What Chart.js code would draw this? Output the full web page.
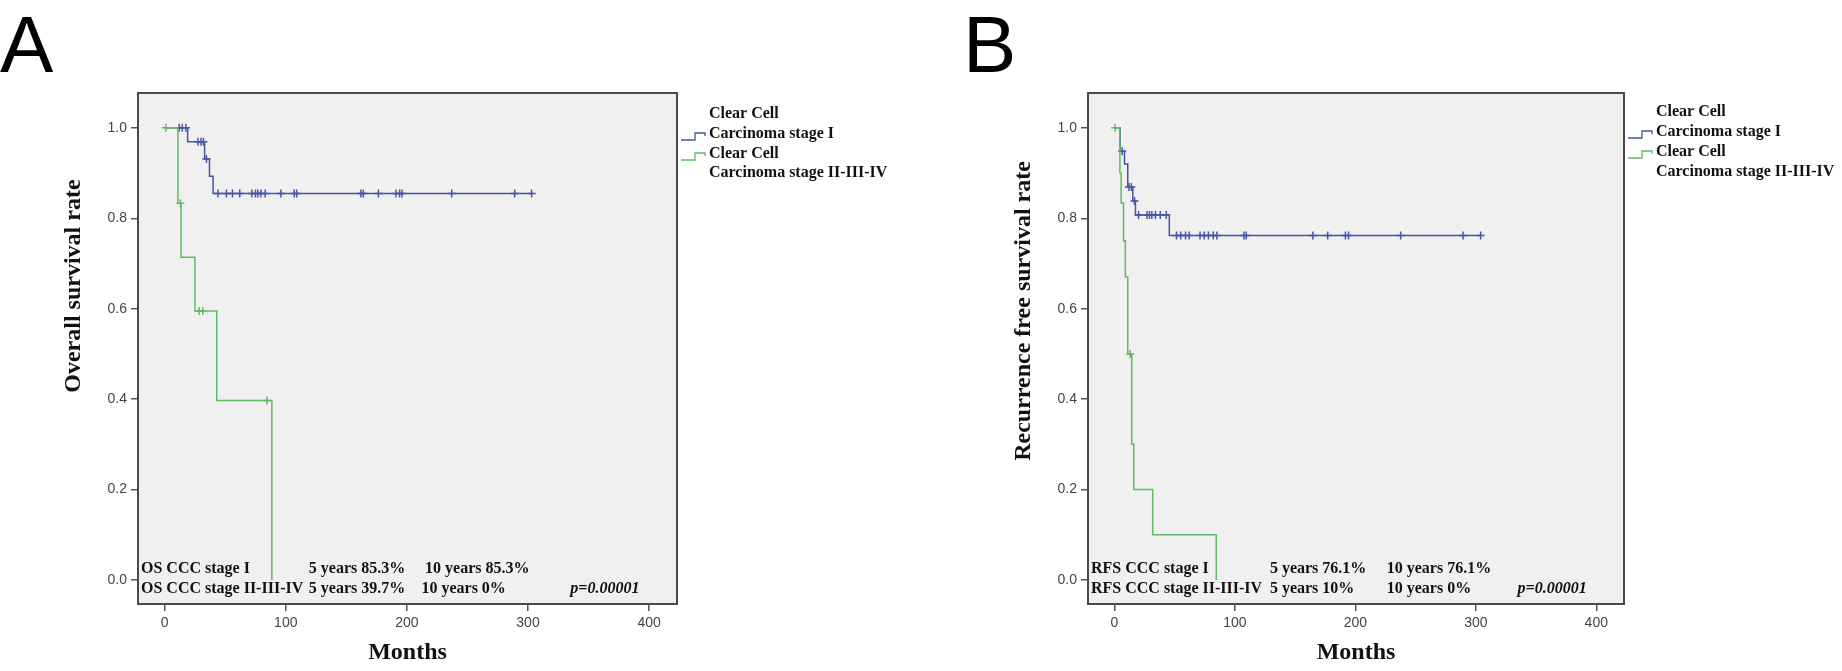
<!DOCTYPE html>
<html lang="en">
<head>
<meta charset="UTF-8">
<title>Clear Cell Carcinoma survival</title>
<script src="https://cdn.jsdelivr.net/npm/chart.js"></script>
<style>
    body {
        margin: 0;
        width: 1842px;
        height: 671px;
        background: #fff;
        position: relative;
        overflow: hidden;
    }
    canvas {
        position: absolute;
        top: 0;
    }
    #chartA { left: 0; }
    #chartB { left: 921px; }
</style>
</head>
<body>
<canvas id="chartA" width="921" height="671"></canvas>
<canvas id="chartB" width="921" height="671"></canvas>

<script>
// axis ticks
const monthTicks = [0, 100, 200, 300, 400];
const rateTicks = [0, 0.2, 0.4, 0.6, 0.8, 1.0];

// A - overall survival, stage I
const osIMonths = [0, 19, 33, 37, 40, 303];
const osIRate = [1.0, 0.969, 0.931, 0.893, 0.855, 0.855];
const osICensMonths = [12, 14.5, 17.5, 27.5, 30, 32, 34.5, 44, 51, 56, 62, 72, 75, 77, 79.5, 83, 96, 107, 109, 162, 164, 176.5, 191, 194, 196, 237, 289, 303];
const osICensRate = [1.0, 1.0, 1.0, 0.969, 0.969, 0.969, 0.931, 0.855, 0.855, 0.855, 0.855, 0.855, 0.855, 0.855, 0.855, 0.855, 0.855, 0.855, 0.855, 0.855, 0.855, 0.855, 0.855, 0.855, 0.855, 0.855, 0.855, 0.855];

// A - overall survival, stage II-III-IV
const osIIMonths = [0, 11, 13.5, 25, 43, 88.5];
const osIIRate = [1.0, 0.833, 0.714, 0.595, 0.397, 0];
const osIICensMonths = [1, 13, 28.5, 31.5, 84.5];
const osIICensRate = [1.0, 0.833, 0.595, 0.595, 0.397];

// B - recurrence free survival, stage I
const rfsIMonths = [0, 4.7, 8.3, 11, 15.2, 17.4, 45.5, 304];
const rfsIRate = [1.0, 0.948, 0.920, 0.869, 0.838, 0.807, 0.762, 0.762];
const rfsICensMonths = [6.4, 12, 14, 16.6, 20, 27, 29, 31, 34, 38, 43, 51.5, 55, 59, 62, 71, 74.5, 78, 82, 85, 107.5, 109.3, 164.7, 177, 191.7, 194.3, 237.6, 289.4, 304];
const rfsICensRate = [0.948, 0.869, 0.869, 0.838, 0.807, 0.807, 0.807, 0.807, 0.807, 0.807, 0.807, 0.762, 0.762, 0.762, 0.762, 0.762, 0.762, 0.762, 0.762, 0.762, 0.762, 0.762, 0.762, 0.762, 0.762, 0.762, 0.762, 0.762, 0.762];

// B - recurrence free survival, stage II-III-IV
const rfsIIMonths = [0, 4.5, 5.5, 7.5, 9, 11, 14.3, 16, 31.7, 84.5];
const rfsIIRate = [1.0, 0.9, 0.834, 0.75, 0.67, 0.5, 0.3, 0.2, 0.1, 0];
const rfsIICensMonths = [0.5, 13];
const rfsIICensRate = [1.0, 0.5];

// texts
const legendLines = ['Clear Cell', 'Carcinoma stage I', 'Clear Cell', 'Carcinoma stage II-III-IV'];
const osRows = [
    ['OS CCC stage I', '5 years 85.3%', '10 years 85.3%'],
    ['OS CCC stage II-III-IV', '5 years 39.7%', '10 years 0%']
];
const rfsRows = [
    ['RFS CCC stage I', '5 years 76.1%', '10 years 76.1%'],
    ['RFS CCC stage II-III-IV', '5 years 10%', '10 years 0%']
];
const pValue = 'p=0.00001';

const blue = '#4656a6';
const green = '#62ba62';
const serif = '"Liberation Serif", "Times New Roman", serif';
const sans = '"Liberation Sans", Arial, sans-serif';

function xy(xs, ys) {
    return xs.map((x, i) => ({ x: x, y: ys[i] }));
}

const panelPlugin = {
    id: 'panel',
    beforeDraw(chart) {
        const { ctx, chartArea: a } = chart;
        ctx.save();
        ctx.fillStyle = '#f0f0f0';
        ctx.fillRect(a.left, a.top, a.right - a.left, a.bottom - a.top);
        ctx.restore();
    },
    afterDraw(chart, args, o) {
        const { ctx, chartArea: a, scales } = chart;
        const x = scales.x, y = scales.y;
        ctx.save();

        // plot frame
        ctx.strokeStyle = '#4a4a4a';
        ctx.lineWidth = 2;
        ctx.strokeRect(a.left, a.top, a.right - a.left, a.bottom - a.top);

        // panel letter
        ctx.fillStyle = '#000';
        ctx.font = '80px ' + sans;
        ctx.textBaseline = 'alphabetic';
        ctx.textAlign = 'left';
        ctx.fillText(o.letter, o.letterX, 72);

        // y axis title
        ctx.save();
        ctx.font = 'bold 24px ' + serif;
        ctx.fillStyle = '#111';
        ctx.translate(a.left - 64, y.getPixelForValue(o.yTitleAt));
        ctx.rotate(-Math.PI / 2);
        ctx.textAlign = 'center';
        ctx.textBaseline = 'middle';
        ctx.fillText(o.yTitle, 0, 0);
        ctx.restore();

        // table of rates in the plot
        const y0 = y.getPixelForValue(0);
        const rowY = [y0 - 11, y0 + 9];
        ctx.font = 'bold 16px ' + serif;
        ctx.fillStyle = '#111';
        ctx.textBaseline = 'middle';
        o.rows.forEach((row, r) => {
            ctx.fillText(row[0], a.left + 3, rowY[r]);
            ctx.fillText(row[1], x.getPixelForValue(o.col5), rowY[r]);
            ctx.fillText(row[2], x.getPixelForValue(o.col10[r]), rowY[r]);
        });
        ctx.font = 'italic bold 16px ' + serif;
        ctx.textAlign = 'right';
        ctx.fillText(pValue, x.getPixelForValue(o.pEnd), rowY[1]);

        // legend
        ctx.textAlign = 'left';
        ctx.font = 'bold 16px ' + serif;
        legendLines.forEach((t, i) => ctx.fillText(t, a.right + 32, o.legendY[i]));
        const ix = a.right + 4;
        [[blue, o.legendY[1]], [green, o.legendY[2]]].forEach(([c, row]) => {
            ctx.strokeStyle = c;
            ctx.lineWidth = 1.3;
            ctx.beginPath();
            ctx.moveTo(ix, row + 6);
            ctx.lineTo(ix + 14, row + 6);
            ctx.lineTo(ix + 14, row - 1);
            ctx.lineTo(ix + 24, row - 1);
            ctx.lineTo(ix + 24, row + 2);
            ctx.stroke();
        });
        ctx.restore();
    }
};

function kmChart(id, pad, d, panel) {
    return new Chart(document.getElementById(id), {
        type: 'line',
        data: {
            datasets: [
                { data: xy(d.m2, d.r2), borderColor: green, borderWidth: 1.5, stepped: 'before', pointRadius: 0, fill: false },
                { type: 'scatter', data: xy(d.c2, d.cr2), borderColor: green, pointStyle: 'cross', pointRadius: 4, pointBorderWidth: 1.5, showLine: false },
                { data: xy(d.m1, d.r1), borderColor: blue, borderWidth: 1.5, stepped: 'before', pointRadius: 0, fill: false },
                { type: 'scatter', data: xy(d.c1, d.cr1), borderColor: blue, pointStyle: 'cross', pointRadius: 4, pointBorderWidth: 1.5, showLine: false }
            ]
        },
        options: {
            responsive: false,
            animation: false,
            layout: { padding: pad },
            plugins: {
                legend: { display: false },
                tooltip: { enabled: false },
                panel: panel
            },
            scales: {
                x: {
                    type: 'linear',
                    min: -22,
                    max: 423,
                    afterBuildTicks: s => { s.ticks = monthTicks.map(v => ({ value: v })); },
                    afterFit: s => { s.height = 67; },
                    grid: { drawOnChartArea: false, drawTicks: true, tickLength: 7, color: '#555', lineWidth: 1.5 },
                    border: { display: false },
                    ticks: { font: { family: sans, size: 14 }, color: '#444', padding: 4 },
                    title: {
                        display: true, text: 'Months', color: '#111',
                        font: { family: serif, size: 24, weight: 'bold' },
                        padding: { top: 0, bottom: 4 }
                    }
                },
                y: {
                    type: 'linear',
                    min: -0.053,
                    max: 1.077,
                    afterBuildTicks: s => { s.ticks = rateTicks.map(v => ({ value: v })); },
                    afterFit: s => { s.width = 138; },
                    grid: { drawOnChartArea: false, drawTicks: true, tickLength: 7, color: '#555', lineWidth: 1.5 },
                    border: { display: false },
                    ticks: { font: { family: sans, size: 14 }, color: '#444', padding: 4, callback: v => v.toFixed(1) }
                }
            }
        },
        plugins: [panelPlugin]
    });
}

kmChart('chartA', { left: 0, top: 93, right: 244, bottom: 0 },
    { m1: osIMonths, r1: osIRate, c1: osICensMonths, cr1: osICensRate,
      m2: osIIMonths, r2: osIIRate, c2: osIICensMonths, cr2: osIICensRate },
    { letter: 'A', letterX: 0, yTitle: 'Overall survival rate', yTitleAt: 0.65,
      rows: osRows, col5: 119, col10: [215, 212], pEnd: 392,
      legendY: [114, 134, 154, 173] });

kmChart('chartB', { left: 29, top: 93, right: 218, bottom: 0 },
    { m1: rfsIMonths, r1: rfsIRate, c1: rfsICensMonths, cr1: rfsICensRate,
      m2: rfsIIMonths, r2: rfsIIRate, c2: rfsIICensMonths, cr2: rfsIICensRate },
    { letter: 'B', letterX: 42, yTitle: 'Recurrence free survival rate', yTitleAt: 0.595,
      rows: rfsRows, col5: 129, col10: [226, 226], pEnd: 392,
      legendY: [112, 132, 152, 172] });
</script>
</body>
</html>
